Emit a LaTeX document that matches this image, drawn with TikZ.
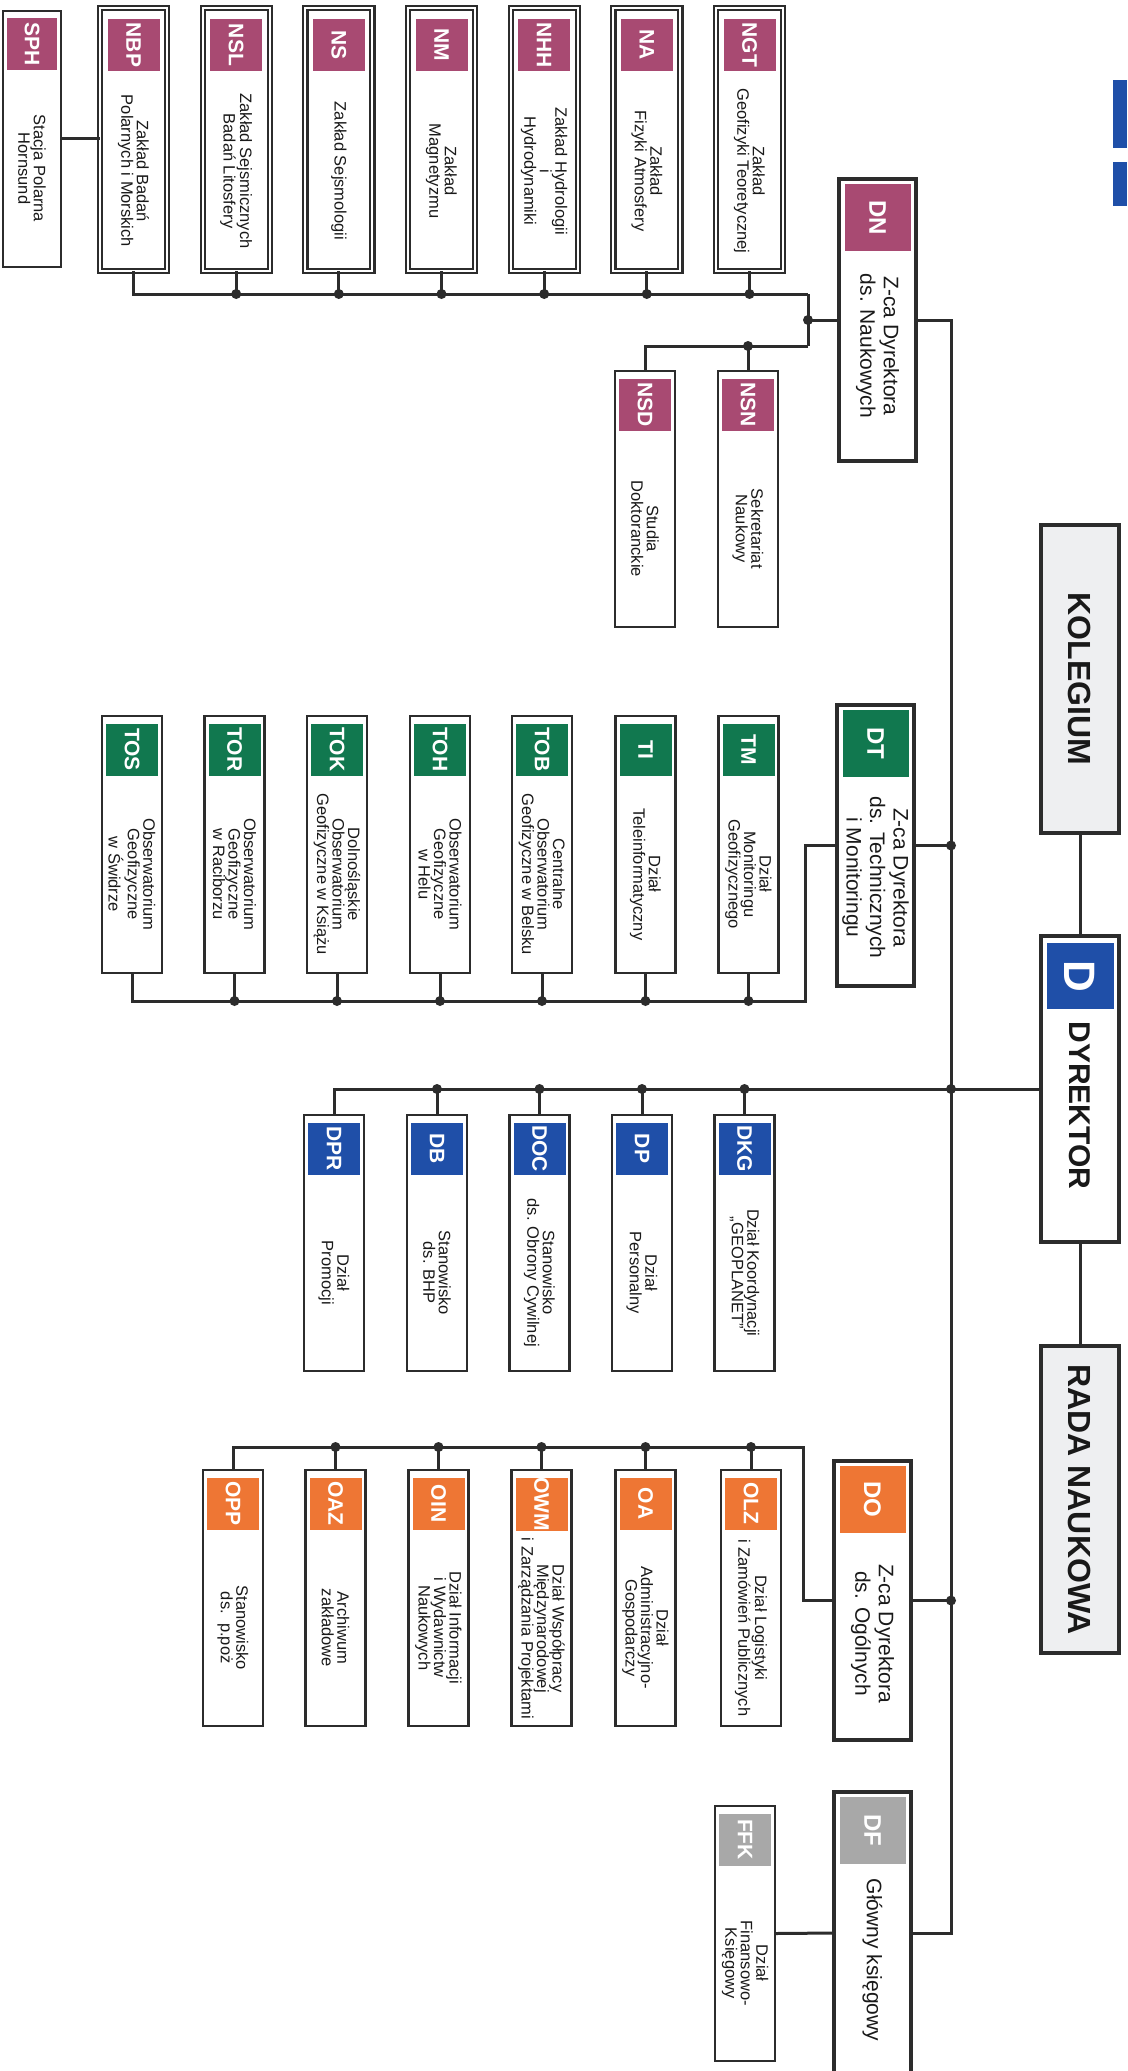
\documentclass[tikz,border=0pt]{standalone}
\usepackage{fontspec}
\setmainfont{Liberation Sans}
\usepackage{graphicx}
\usetikzlibrary{calc}
\definecolor{nc}{HTML}{A84A72}
\definecolor{tc}{HTML}{11784F}
\definecolor{dc}{HTML}{1F4FA8}
\definecolor{oc}{HTML}{EE7634}
\definecolor{fc}{HTML}{A8A8A8}
\definecolor{hdr}{HTML}{EEEFF1}
\definecolor{ln}{HTML}{2C2C2C}
\tikzset{
  leafbox/.style={draw=ln, line width=2.6pt, fill=white, minimum width=60pt, inner sep=0pt, outer sep=0pt},
  sphbox/.style={leafbox, line width=2.2pt, minimum width=58pt},
  nbox/.style={draw=ln, line width=2.2pt, double=white, double distance=2pt, fill=white, minimum width=67pt, inner sep=0pt, outer sep=0pt},
  dbox/.style={draw=ln, line width=4pt, fill=white, minimum width=77pt, inner sep=0pt, outer sep=0pt},
  hbox/.style={draw=ln, line width=4pt, fill=hdr, minimum width=78pt, inner sep=0pt, outer sep=0pt},
  lab/.style={inner sep=0pt, outer sep=0pt, minimum width=52pt, minimum height=52pt, text=white, font=\fontsize{21}{21}\selectfont\bfseries},
  nlab/.style={lab, fill=nc, yshift=-11pt},
  sphlab/.style={lab, fill=nc, minimum width=50pt, yshift=-7pt},
  plab/.style={lab, fill=nc, yshift=-7.5pt},
  tlab/.style={lab, fill=tc, yshift=-7.5pt},
  blab/.style={lab, fill=dc, yshift=-7.5pt},
  olab/.style={lab, fill=oc, yshift=-7.5pt},
  flab/.style={lab, fill=fc, yshift=-7.5pt},
  bigcode/.style={inner sep=0pt, outer sep=0pt, minimum width=66pt, minimum height=67pt, text=white, yshift=-5pt, font=\fontsize{24}{24}\selectfont\bfseries},
  dnlab/.style={bigcode, fill=nc},
  dtlab/.style={bigcode, fill=tc},
  dolab/.style={bigcode, fill=oc},
  dflab/.style={bigcode, fill=fc},
  dlab/.style={inner sep=0pt, outer sep=0pt, minimum width=67pt, minimum height=66pt, fill=dc, text=white, yshift=-7pt, font=\fontsize{44}{44}\selectfont\bfseries},
  bodytext/.style={rotate=-90, align=center, inner sep=0pt, text=black!90},
  ltext/.style={font=\fontsize{16.5}{15.5}\selectfont},
  dtext/.style={font=\fontsize{21}{23.5}\selectfont},
  htext/.style={font=\fontsize{32}{32}\selectfont\bfseries},
  conn/.style={draw=ln, line width=3pt},
}
\newcommand\orgunit[9]{%
  \node[#2, minimum height={(#5-#4)*1pt}] (#1) at (#3,{(#4+#5)/2}) {};
  \node[#6, anchor=north] (#1-l) at (#1.north) {\rotatebox{-90}{#7}};
  \node[#8, bodytext] (#1-t) at ($(#1-l.south)!0.5!(#1.south)$) {#9};
}
\newcommand\jdot[1]{\fill[ln] (#1) circle (5pt);}
\begin{document}
\begin{tikzpicture}[x=1pt, y=-1pt]
\path[use as bounding box] (0,0) rectangle (1127,2071);
\clip (0,0) rectangle (1127,2071);
\fill[white] (0,0) rectangle (1127,2071);
% logo fragments
\fill[dc] (1113,80) rectangle (1127,148);
\fill[dc] (1113,162) rectangle (1127,206);
% headers
\node[hbox, minimum height=308pt] (KOL) at (1080,679) {};
\node[htext, bodytext] (KOL-t) at (KOL) {KOLEGIUM};
\orgunit{D}{hbox, fill=white}{1080}{936}{1242}{dlab}{D}{htext, font=\fontsize{30}{30}\selectfont\bfseries, yshift=20pt}{DYREKTOR}
\node[hbox, minimum height=307pt] (RADA) at (1080,1499.5) {};
\node[htext, bodytext] (RADA-t) at (RADA) {RADA NAUKOWA};
% scientific
\orgunit{DN}{dbox}{877.5}{179}{461}{dnlab}{DN}{dtext, yshift=10pt}{Z-ca Dyrektora\\ds. Naukowych}
\orgunit{SPH}{sphbox}{32}{11}{267}{sphlab}{SPH}{ltext}{Stacja Polarna\\Hornsund}
\orgunit{NBP}{nbox}{133.5}{8}{271}{nlab}{NBP}{ltext}{Zakład Badań\\Polarnych i Morskich}
\orgunit{NSL}{nbox}{236.2}{8}{271}{nlab}{NSL}{ltext}{Zakład Sejsmicznych\\Badań Litosfery}
\orgunit{NS}{nbox}{338.8}{8}{271}{nlab}{NS}{ltext}{Zakład Sejsmologii}
\orgunit{NM}{nbox}{441.5}{8}{271}{nlab}{NM}{ltext}{Zakład\\Magnetyzmu}
\orgunit{NHH}{nbox}{544.2}{8}{271}{nlab}{NHH}{ltext}{Zakład Hydrologii\\i\\Hydrodynamiki}
\orgunit{NA}{nbox}{646.8}{8}{271}{nlab}{NA}{ltext}{Zakład\\Fizyki Atmosfery}
\orgunit{NGT}{nbox}{749.5}{8}{271}{nlab}{NGT}{ltext}{Zakład\\Geofizyki Teoretycznej}
\orgunit{NSN}{leafbox}{748}{371}{627}{plab}{NSN}{ltext}{Sekretariat\\Naukowy}
\orgunit{NSD}{leafbox}{645}{371}{627}{plab}{NSD}{ltext}{Studia\\Doktoranckie}
% technical
\orgunit{DT}{dbox}{875.5}{705}{986}{dtlab}{DT}{dtext, yshift=4pt}{Z-ca Dyrektora\\ds. Technicznych\\i Monitoringu}
\orgunit{TM}{leafbox}{748.5}{716}{973}{tlab}{TM}{ltext}{Dział\\Monitoringu\\Geofizycznego}
\orgunit{TI}{leafbox}{645.5}{716}{973}{tlab}{TI}{ltext}{Dział\\Teleinformatyczny}
\orgunit{TOB}{leafbox}{542}{716}{973}{tlab}{TOB}{ltext}{Centralne\\Obserwatorium\\Geofizyczne w Belsku}
\orgunit{TOH}{leafbox}{440}{716}{973}{tlab}{TOH}{ltext}{Obserwatorium\\Geofizyczne\\w Helu}
\orgunit{TOK}{leafbox}{337}{716}{973}{tlab}{TOK}{ltext}{Dolnośląskie\\Obserwatorium\\Geofizyczne w Książu}
\orgunit{TOR}{leafbox}{234.5}{716}{973}{tlab}{TOR}{ltext}{Obserwatorium\\Geofizyczne\\w Raciborzu}
\orgunit{TOS}{leafbox}{132}{716}{973}{tlab}{TOS}{ltext}{Obserwatorium\\Geofizyczne\\w Świdrze}
% director's units
\orgunit{DKG}{leafbox}{744.5}{1115}{1371}{blab}{DKG}{ltext}{Dział Koordynacji\\„GEOPLANET”}
\orgunit{DP}{leafbox}{642}{1115}{1371}{blab}{DP}{ltext}{Dział\\Personalny}
\orgunit{DOC}{leafbox}{539.5}{1115}{1371}{blab}{DOC}{ltext}{Stanowisko\\ds. Obrony Cywilnej}
\orgunit{DB}{leafbox}{437}{1115}{1371}{blab}{DB}{ltext}{Stanowisko\\ds. BHP}
\orgunit{DPR}{leafbox}{334}{1115}{1371}{blab}{DPR}{ltext}{Dział\\Promocji}
% general
\orgunit{DO}{dbox}{872.5}{1461}{1740}{dolab}{DO}{dtext, yshift=3pt}{Z-ca Dyrektora\\ds. Ogólnych}
\orgunit{OLZ}{leafbox}{751}{1470}{1726}{olab}{OLZ}{ltext}{Dział Logistyki\\i Zamówień Publicznych}
\orgunit{OA}{leafbox}{645.5}{1470}{1726}{olab}{OA}{ltext}{Dział\\Administracyjno-\\Gospodarczy}
\orgunit{OWM}{leafbox}{541.5}{1470}{1726}{olab}{OWM}{ltext}{Dział Współpracy\\Międzynarodowej\\i Zarządzania Projektami}
\orgunit{OIN}{leafbox}{438.5}{1470}{1726}{olab}{OIN}{ltext}{Dział Informacji\\i Wydawnictw\\Naukowych}
\orgunit{OAZ}{leafbox}{335.5}{1470}{1726}{olab}{OAZ}{ltext}{Archiwum\\zakładowe}
\orgunit{OPP}{leafbox}{233}{1470}{1726}{olab}{OPP}{ltext}{Stanowisko\\ds.\ \ p.poż}
% finance
\orgunit{DF}{dbox}{872.5}{1792}{2074}{dflab}{DF}{dtext, yshift=9pt}{Główny księgowy}
\orgunit{FFK}{leafbox}{745}{1806}{2061}{flab}{FFK}{ltext}{Dział\\Finansowo-\\Księgowy}
% helper coordinates
\coordinate (trunk) at (951,0);
\coordinate (xN) at (808,0);
\coordinate (yNbus) at (0,294);
\coordinate (ySbus) at (0,346);
\coordinate (xT) at (805,0);
\coordinate (yTbus) at (0,1001);
\coordinate (xO) at (803,0);
\coordinate (yObus) at (0,1447);
% header links
\draw[conn] (KOL.south) -- (D.north);
\draw[conn] (D.south) -- (RADA.north);
% trunk
\draw[conn] (DN.east) -| (trunk |- DF.east) -- (DF.east);
\draw[conn] (DT.east) -- (DT.east -| trunk); \jdot{DT.east -| trunk}
\draw[conn] (DO.east) -- (DO.east -| trunk); \jdot{DO.east -| trunk}
\draw[conn] (D.west) -| (DPR.north); \jdot{D.west -| trunk}
% N group
\draw[conn] (SPH.east) -- (SPH.east -| NBP.west);
\draw[conn] (DN.west) -- (DN.west -| xN); \jdot{DN.west -| xN}
\draw[conn] (xN |- yNbus) -- (xN |- ySbus);
\draw[conn] (xN |- yNbus) -| (NBP.south);
\foreach \n in {NSL,NS,NM,NHH,NA,NGT} {\draw[conn] (\n.south) -- (\n.south |- yNbus); \jdot{\n.south |- yNbus}}
\draw[conn] (xN |- ySbus) -| (NSD.north);
\draw[conn] (NSN.north) -- (NSN.north |- ySbus); \jdot{NSN.north |- ySbus}
% T group
\draw[conn] (DT.west) -| (xT |- yTbus) -| (TOS.south);
\foreach \n in {TM,TI,TOB,TOH,TOK,TOR} {\draw[conn] (\n.south) -- (\n.south |- yTbus); \jdot{\n.south |- yTbus}}
% D group
\foreach \n in {DKG,DP,DOC,DB} {\draw[conn] (\n.north) -- (\n.north |- D.west); \jdot{\n.north |- D.west}}
% O group
\draw[conn] (DO.west) -| (xO |- yObus) -| (OPP.north);
\foreach \n in {OLZ,OA,OWM,OIN,OAZ} {\draw[conn] (\n.north) -- (\n.north |- yObus); \jdot{\n.north |- yObus}}
% F group
\draw[conn] (DF.west) -- (FFK.east);
\end{tikzpicture}
\end{document}
